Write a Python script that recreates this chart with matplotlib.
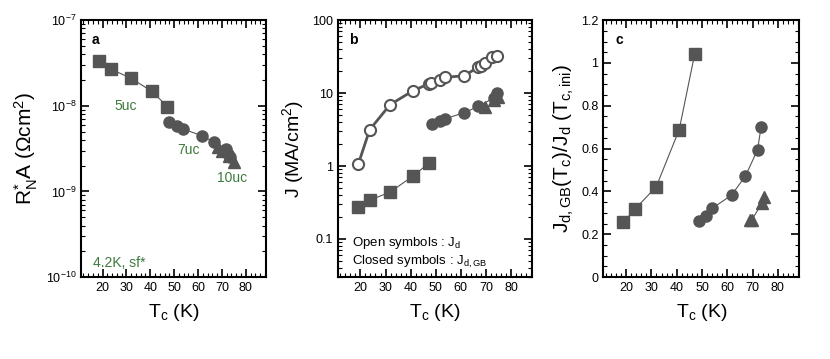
import numpy as np
import matplotlib.pyplot as plt
from matplotlib.ticker import MultipleLocator, LogLocator, NullFormatter, FixedLocator, FixedFormatter

plt.rcParams['font.family'] = ['Liberation Sans', 'DejaVu Sans']
plt.rcParams['mathtext.fontset'] = 'custom'
plt.rcParams['mathtext.rm'] = 'Liberation Sans'
plt.rcParams['mathtext.it'] = 'Liberation Sans'

GRAY = '#555555'
GREEN = '#3d7a3d'

# ---------- Panel a: R_N*A vs Tc ----------
a_tc_5uc = [18.6, 23.5, 31.8, 40.7, 47.2]
a_ra_5uc = [3.33e-8, 2.67e-8, 2.11e-8, 1.47e-8, 9.8e-9]
a_tc_7uc = [48.0, 51.2, 53.6, 61.5, 66.8, 71.7, 72.6, 73.5]
a_ra_7uc = [6.4e-9, 5.8e-9, 5.37e-9, 4.49e-9, 3.75e-9, 3.13e-9, 2.75e-9, 2.5e-9]
a_tc_10uc = [68.5, 70.0, 73.0, 75.0]
a_ra_10uc = [3.3e-9, 3.0e-9, 2.6e-9, 2.2e-9]

# ---------- Panel b: J vs Tc ----------
b_tc_open = [19.1, 23.7, 31.8, 41.0, 47.3, 48.2, 51.5, 53.8, 61.3, 67.0, 67.9, 69.5, 72.5, 74.2]
b_jd_open = [1.05, 3.15, 6.93, 10.8, 13.4, 13.9, 15.3, 16.4, 17.3, 22.7, 23.7, 25.8, 31.1, 32.1]
b_tc_sq = [19.1, 23.7, 31.8, 41.0, 47.3]
b_j_sq = [0.274, 0.339, 0.44, 0.73, 1.10]
b_tc_circ = [48.7, 51.5, 53.8, 61.3, 67.0, 73.0, 74.2]
b_j_circ = [3.72, 4.09, 4.45, 5.38, 6.57, 8.55, 10.0]
b_tc_tri = [69.5, 73.0, 74.8]
b_j_tri = [6.5, 8.0, 8.7]

# ---------- Panel c: ratio vs Tc ----------
c_tc_sq = [18.9, 23.6, 31.9, 41.0, 47.1]
c_r_sq = [0.257, 0.319, 0.422, 0.689, 1.041]
c_tc_circ = [48.7, 51.5, 54.0, 61.7, 67.2, 72.0, 73.4]
c_r_circ = [0.261, 0.286, 0.321, 0.383, 0.472, 0.595, 0.703]
c_tc_tri = [68.9, 69.8, 73.7, 74.4]
c_r_tri = [0.266, 0.269, 0.344, 0.375]

x_ticks = [20, 30, 40, 50, 60, 70, 80]


def style_axis(ax):
    ax.set_xlim(11, 88.5)
    ax.xaxis.set_major_locator(FixedLocator(x_ticks))
    ax.xaxis.set_minor_locator(MultipleLocator(2))
    ax.tick_params(which='both', direction='in', top=True, right=True, labelsize=9)
    ax.tick_params(which='major', length=6, width=1.2)
    ax.tick_params(which='minor', length=3, width=0.8)
    for s in ax.spines.values():
        s.set_linewidth(1.5)
    ax.set_xlabel('T$_\\mathregular{c}$ (K)', fontsize=14, labelpad=6)


fig = plt.figure(figsize=(8.3, 3.59), dpi=100)
ax1 = fig.add_axes([0.0976, 0.228, 0.223, 0.716])
ax2 = fig.add_axes([0.407, 0.228, 0.2345, 0.716])
ax3 = fig.add_axes([0.727, 0.228, 0.236, 0.716])

ms = 8
mk = dict(color=GRAY, mec=GRAY, lw=0.8)

# panel a
ax1.set_yscale('log')
ax1.plot(a_tc_5uc, a_ra_5uc, marker='s', ms=ms, **mk)
ax1.plot(a_tc_7uc, a_ra_7uc, marker='o', ms=ms, **mk)
ax1.plot(a_tc_10uc, a_ra_10uc, marker='^', ms=ms + 1, ls='none', color=GRAY, mec=GRAY)
ax1.set_ylim(1e-10, 1e-7)
style_axis(ax1)
ax1.yaxis.set_major_locator(LogLocator(base=10, numticks=10))
ax1.yaxis.set_minor_locator(LogLocator(base=10, subs=np.arange(2, 10), numticks=10))
ax1.yaxis.set_minor_formatter(NullFormatter())
ax1.set_ylabel('R$_\\mathregular{N}^{\\mathregular{*}}$A ($\\Omega$cm$^\\mathregular{2}$)', fontsize=15)
ax1.text(0.06, 0.95, 'a', transform=ax1.transAxes, fontsize=10, fontweight='bold', va='top')
ax1.text(25.1, 1.0e-8, '5uc', color=GREEN, fontsize=10, va='center')
ax1.text(51.4, 3.07e-9, '7uc', color=GREEN, fontsize=10, va='center')
ax1.text(68, 1.45e-9, '10uc', color=GREEN, fontsize=10, va='center')
ax1.text(16, 1.46e-10, '4.2K, sf*', color=GREEN, fontsize=10, va='center')

# panel b
ax2.set_yscale('log')
ax2.plot(b_tc_open, b_jd_open, marker='o', ms=ms, color=GRAY, mfc='white', mec=GRAY, mew=1.5, lw=2)
ax2.plot(b_tc_sq, b_j_sq, marker='s', ms=ms, **mk)
ax2.plot(b_tc_circ, b_j_circ, marker='o', ms=ms, **mk)
ax2.plot(b_tc_tri, b_j_tri, marker='^', ms=ms + 1, ls='none', color=GRAY, mec=GRAY)
ax2.set_ylim(0.03, 100)
style_axis(ax2)
ax2.yaxis.set_major_locator(FixedLocator([0.1, 1, 10, 100]))
ax2.yaxis.set_major_formatter(FixedFormatter(['0.1', '1', '10', '100']))
ax2.yaxis.set_minor_locator(LogLocator(base=10, subs=np.arange(2, 10), numticks=10))
ax2.yaxis.set_minor_formatter(NullFormatter())
ax2.set_ylabel('J (MA/cm$^\\mathregular{2}$)', fontsize=14)
ax2.text(0.06, 0.95, 'b', transform=ax2.transAxes, fontsize=10, fontweight='bold', va='top')
ax2.text(16.7, 0.087, 'Open symbols : J$_\\mathregular{d}$', fontsize=9.5, va='center')
ax2.text(16.7, 0.048, 'Closed symbols : J$_\\mathregular{d,GB}$', fontsize=9.5, va='center')

# panel c
ax3.plot(c_tc_sq, c_r_sq, marker='s', ms=ms, **mk)
ax3.plot(c_tc_circ, c_r_circ, marker='o', ms=ms, **mk)
ax3.plot(c_tc_tri, c_r_tri, marker='^', ms=ms + 1, **mk)
ax3.set_ylim(0, 1.2)
style_axis(ax3)
ax3.yaxis.set_major_locator(FixedLocator([0, 0.2, 0.4, 0.6, 0.8, 1.0, 1.2]))
ax3.yaxis.set_major_formatter(FixedFormatter(['0', '0.2', '0.4', '0.6', '0.8', '1', '1.2']))
ax3.yaxis.set_minor_locator(MultipleLocator(0.05))
ax3.set_ylabel('J$_\\mathregular{d,GB}$(T$_\\mathregular{c}$)/J$_\\mathregular{d}$ (T$_\\mathregular{c,ini}$)', fontsize=15)
ax3.text(0.06, 0.95, 'c', transform=ax3.transAxes, fontsize=10, fontweight='bold', va='top')

fig.savefig('out.png', dpi=100)
